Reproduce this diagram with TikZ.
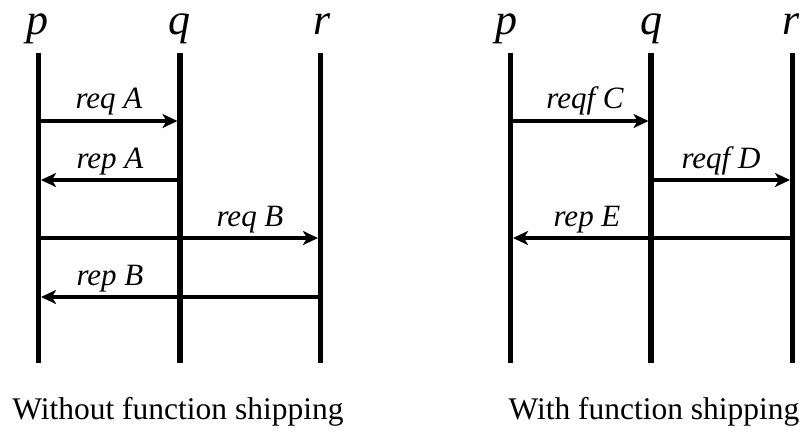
\documentclass[tikz,border=0pt]{standalone}
\usepackage{fontspec}
\setmainfont{Liberation Serif}
\usetikzlibrary{arrows.meta}

\tikzset{
  lifeline/.style={line width=5.5pt},
  msg/.style={line width=3.2pt, shorten >=2.5pt,
    -{Stealth[length=15pt,width=14pt,inset=4pt]}},
  procname/.style={anchor=base, inner sep=0pt,
    font=\fontsize{44}{52}\selectfont\itshape},
  msglabel/.style={anchor=base, inner sep=0pt,
    font=\fontsize{31}{37}\selectfont\itshape},
  caption/.style={anchor=base, inner sep=0pt,
    font=\fontsize{31.5}{38}\selectfont}
}

\begin{document}
\begin{tikzpicture}[x=1pt,y=-1pt]
\useasboundingbox (0,0) rectangle (810,432);

% ---------- left: without function shipping ----------
\coordinate (lp) at (38.5,53);  \coordinate (lpb) at (38.5,363);
\coordinate (lq) at (180,53);   \coordinate (lqb) at (180,363);
\coordinate (lr) at (320.5,53); \coordinate (lrb) at (320.5,363);

\node[procname] (lpname) at (37,34)  {p};
\node[procname] (lqname) at (179,34) {q};
\node[procname] (lrname) at (322,34) {r};

\draw[lifeline] (lp) -- (lpb);
\draw[lifeline] (lq) -- (lqb);
\draw[lifeline] (lr) -- (lrb);

\draw[msg] (lp |- 0,121) -- (lq |- 0,121);
\node[msglabel] (reqA) at (109,108) {req A};
\draw[msg] (lq |- 0,180) -- (lp |- 0,180);
\node[msglabel] (repA) at (110,168) {rep A};
\draw[msg] (lp |- 0,238) -- (lr |- 0,238);
\node[msglabel] (reqB) at (250,226) {req B};
\draw[msg] (lr |- 0,297) -- (lp |- 0,297);
\node[msglabel] (repB) at (110,285) {rep B};

\node[caption] (capL) at (178,419) {Without function shipping};

% ---------- right: with function shipping ----------
\coordinate (rp) at (510.5,53); \coordinate (rpb) at (510.5,363);
\coordinate (rq) at (651,53);   \coordinate (rqb) at (651,363);
\coordinate (rr) at (792.5,53); \coordinate (rrb) at (792.5,363);

\node[procname] (rpname) at (506,34) {p};
\node[procname] (rqname) at (651,34) {q};
\node[procname] (rrname) at (791,34) {r};

\draw[lifeline] (rp) -- (rpb);
\draw[lifeline] (rq) -- (rqb);
\draw[lifeline] (rr) -- (rrb);

\draw[msg] (rp |- 0,121) -- (rq |- 0,121);
\node[msglabel] (reqfC) at (585,108) {reqf C};
\draw[msg] (rq |- 0,180) -- (rr |- 0,180);
\node[msglabel] (reqfD) at (721,168) {reqf D};
\draw[msg] (rr |- 0,238) -- (rp |- 0,238);
\node[msglabel] (repE) at (587,226) {rep E};

\node[caption] (capR) at (654,419) {With function shipping};
\end{tikzpicture}
\end{document}
